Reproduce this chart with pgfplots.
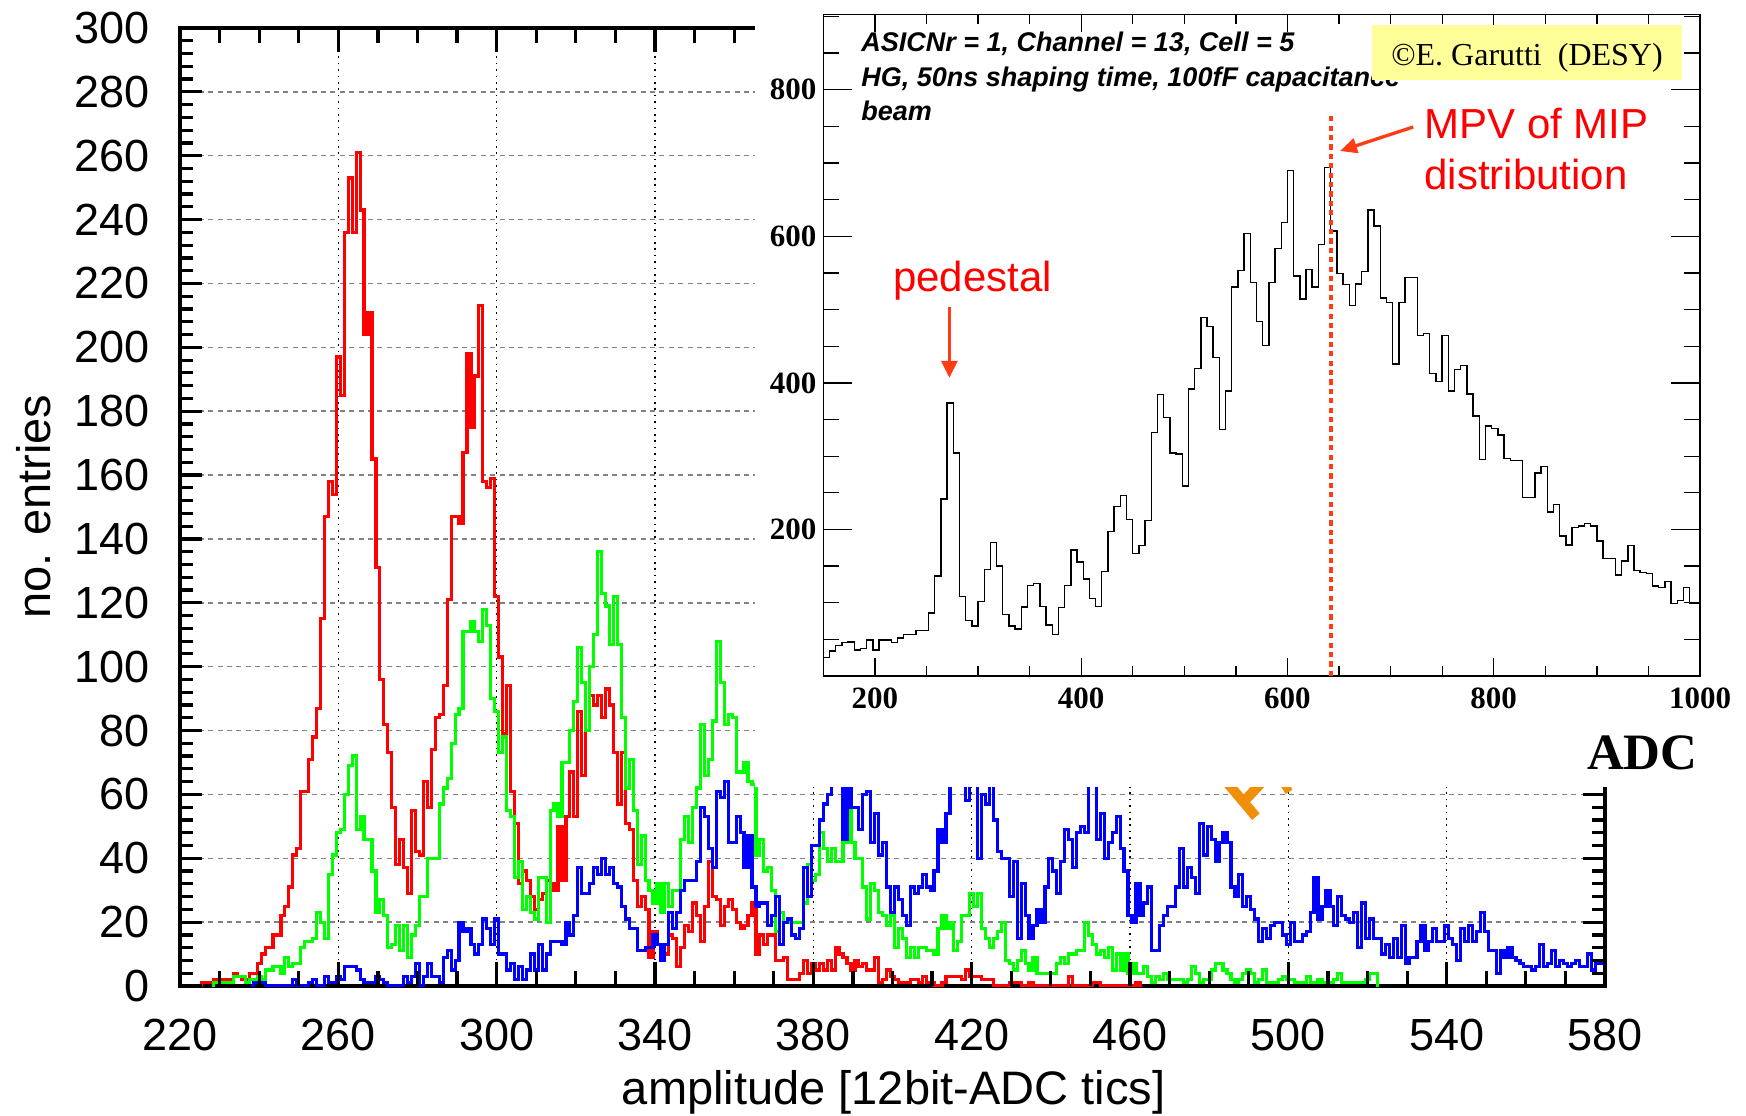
\documentclass[border=0pt]{standalone}
\usepackage{fontspec}
\setmainfont{Liberation Sans}
\newfontfamily\serifft{Liberation Serif}
\usepackage{pgfplots}
\pgfplotsset{compat=1.18}
\usetikzlibrary{arrows.meta}
\definecolor{arrowred}{RGB}{255,60,20}
\definecolor{boxyellow}{RGB}{255,255,153}
\definecolor{glyphorange}{RGB}{240,144,10}
\definecolor{hgreen}{RGB}{0,255,0}
\definecolor{hblue}{RGB}{0,0,255}
\definecolor{hred}{RGB}{255,0,0}
\definecolor{gridgray}{RGB}{130,130,130}
\tikzset{mtick/.style={black, line width=1.6pt}, itick/.style={black, line width=0.65pt}}
\begin{document}
\begin{tikzpicture}
\useasboundingbox (0,0) rectangle (873pt,557.5pt);
\begin{axis}[
  at={(90pt,64.5pt)}, anchor=south west,
  width=712.5pt, height=479pt, scale only axis,
  xmin=220, xmax=580, ymin=0, ymax=300,
  xtick={220,260,...,580},
  ytick={0,20,...,300},
  major tick length=0pt, minor tick length=0pt,
  axis line style={line width=2pt},
  xmajorgrids,
  major grid style={black, line width=0.6pt, dash pattern=on 0.8pt off 2.4pt},
  extra y ticks={20,40,...,280}, extra y tick labels={},
  extra y tick style={grid=major, major grid style={gridgray, line width=0.7pt, dash pattern=on 2.5pt off 2.2pt}},
  tick label style={font=\fontsize{22.5}{22.5}\selectfont},
  xticklabel style={inner sep=0pt, yshift=-16.5pt},
  yticklabel style={inner sep=0pt, xshift=-15pt},
  /pgf/number format/assume math mode=true,
]
\addplot[hred, line width=1.6pt, const plot mark mid] coordinates {
(225,0)(226,1)(227,1)(228,1)(229,2)(230,2)(231,2)(232,2)(233,2)(234,4)(235,3)(236,2)(237,2)(238,4)(239,4)(240,7)(241,10)(242,12)(243,12)(244,16)(245,16)(246,22)(247,25)(248,31)(249,41)(250,43)(251,61)(252,61)(253,71)(254,78)(255,87)(256,115)(257,147)(258,158)(259,154)(260,197)(261,185)(262,236)(263,253)(264,236)(265,261)(266,243)(267,204)(268,211)(269,165)(270,131)(271,96)(272,82)(273,73)(274,56)(275,38)(276,46)(277,37)(278,29)(279,55)(280,42)(281,41)(282,64)(283,56)(284,74)(285,84)(286,85)(287,94)(288,121)(289,147)(290,147)(291,145)(292,167)(293,198)(294,175)(295,191)(296,213)(297,158)(298,156)(299,159)(300,122)(301,103)(302,79)(303,94)(304,61)(305,51)(306,32)(307,36)(308,33)(309,28)(310,24)(311,27)(312,29)(313,33)(314,32)(315,30)(316,50)(317,33)(318,53)(319,67)(320,53)(321,86)(322,66)(323,80)(324,91)(325,88)(326,91)(327,84)(328,93)(329,88)(330,73)(331,57)(332,73)(333,51)(334,49)(335,33)(336,25)(337,28)(338,24)(339,9)(340,17)(341,13)(342,12)(343,10)(344,16)(345,15)(346,6)(347,12)(348,19)(349,17)(350,26)(351,22)(352,14)(353,25)(354,39)(355,28)(356,27)(357,19)(358,25)(359,27)(360,24)(361,20)(362,18)(363,19)(364,22)(365,26)(366,10)(367,16)(368,13)(369,16)(370,16)(371,8)(372,8)(373,9)(374,2)(375,2)(376,2)(377,4)(378,8)(379,4)(380,7)(381,5)(382,7)(383,5)(384,8)(385,5)(386,12)(387,10)(388,9)(389,7)(390,5)(391,8)(392,6)(393,7)(394,5)(395,5)(396,9)(397,1)(398,2)(399,5)(400,3)(401,2)(402,1)(403,1)(404,1)(405,2)(406,2)(407,1)(408,3)(409,1)(410,1)(411,0)(412,0)(413,1)(414,3)(415,3)(416,3)(417,3)(418,2)(419,5)(420,3)(421,3)(422,3)(423,2)(424,2)(425,2)(426,0)(427,0)(428,0)(429,0)(430,1)(431,1)(432,1)(433,0)(434,0)(435,1)(436,0)(444,0)(445,3)(446,0)(450,0)(451,1)(452,1)(453,0)(461,0)(462,1)(463,0)
};
\addplot[hgreen, line width=1.6pt, const plot mark mid] coordinates {
(228,0)(229,1)(230,1)(231,1)(232,1)(233,1)(234,3)(235,3)(236,3)(237,1)(238,2)(239,2)(240,3)(241,2)(242,5)(243,5)(244,6)(245,6)(246,4)(247,9)(248,6)(249,7)(250,7)(251,12)(252,14)(253,14)(254,15)(255,23)(256,20)(257,15)(258,35)(259,41)(260,48)(261,49)(262,60)(263,69)(264,72)(265,49)(266,53)(267,46)(268,46)(269,36)(270,23)(271,27)(272,22)(273,12)(274,13)(275,19)(276,11)(277,19)(278,9)(279,16)(280,19)(281,28)(282,28)(283,40)(284,40)(285,40)(286,57)(287,62)(288,65)(289,76)(290,85)(291,87)(292,111)(293,111)(294,114)(295,111)(296,108)(297,118)(298,113)(299,90)(300,86)(301,73)(302,78)(303,55)(304,53)(305,34)(306,39)(307,24)(308,28)(309,23)(310,21)(311,34)(312,34)(313,20)(314,55)(315,57)(316,53)(317,70)(318,70)(319,80)(320,89)(321,106)(322,95)(323,80)(324,100)(325,110)(326,136)(327,123)(328,119)(329,107)(330,122)(331,107)(332,84)(333,62)(334,71)(335,55)(336,38)(337,47)(338,33)(339,30)(340,26)(341,32)(342,23)(343,32)(344,25)(345,30)(346,30)(347,46)(348,53)(349,45)(350,56)(351,62)(352,82)(353,66)(354,71)(355,83)(356,108)(357,95)(358,82)(359,85)(360,84)(361,67)(362,67)(363,70)(364,64)(365,63)(366,41)(367,46)(368,36)(369,37)(370,30)(371,17)(372,23)(373,20)(374,20)(375,20)(376,20)(377,20)(378,26)(379,38)(380,33)(381,35)(382,48)(383,43)(384,39)(385,43)(386,39)(387,39)(388,45)(389,56)(390,45)(391,40)(392,40)(393,31)(394,21)(395,32)(396,30)(397,23)(398,22)(399,19)(400,22)(401,12)(402,18)(403,15)(404,9)(405,12)(406,9)(407,12)(408,12)(409,11)(410,11)(411,10)(412,18)(413,22)(414,18)(415,20)(416,11)(417,14)(418,22)(419,22)(420,29)(421,25)(422,29)(423,18)(424,15)(425,12)(426,15)(427,17)(428,20)(429,8)(430,7)(431,5)(432,8)(433,11)(434,7)(435,5)(436,9)(437,4)(438,4)(439,4)(440,4)(441,4)(442,7)(443,9)(444,7)(445,10)(446,10)(447,11)(448,11)(449,20)(450,16)(451,13)(452,10)(453,11)(454,9)(455,12)(456,5)(457,10)(458,5)(459,10)(460,4)(461,7)(462,4)(463,4)(464,6)(465,3)(466,1)(467,3)(468,2)(469,4)(470,2)(471,2)(472,2)(473,2)(474,1)(475,2)(476,6)(477,4)(478,1)(479,2)(480,2)(481,5)(482,7)(483,7)(484,5)(485,4)(486,2)(487,1)(488,2)(489,4)(490,5)(491,4)(492,1)(493,2)(494,5)(495,1)(496,1)(497,1)(498,2)(499,3)(500,2)(501,2)(502,1)(503,1)(504,1)(505,3)(506,1)(507,1)(508,2)(509,1)(510,1)(511,1)(512,2)(513,4)(514,1)(515,1)(516,1)(517,1)(518,1)(519,1)(520,2)(521,4)(522,4)(523,0)
};
\addplot[hblue, line width=1.6pt, const plot mark mid] coordinates {
(238,0)(239,1)(240,1)(241,1)(242,0)(248,0)(249,2)(250,0)(252,0)(253,1)(254,2)(255,0)(256,0)(257,3)(258,1)(259,1)(260,3)(261,2)(262,6)(263,6)(264,6)(265,5)(266,2)(267,1)(268,1)(269,1)(270,3)(271,2)(272,1)(273,0)(276,0)(277,3)(278,1)(279,3)(280,7)(281,0)(282,3)(283,7)(284,3)(285,3)(286,1)(287,9)(288,11)(289,5)(290,8)(291,20)(292,17)(293,18)(294,13)(295,10)(296,13)(297,21)(298,18)(299,13)(300,21)(301,10)(302,10)(303,5)(304,7)(305,2)(306,6)(307,2)(308,5)(309,10)(310,5)(311,13)(312,5)(313,10)(314,14)(315,14)(316,14)(317,13)(318,20)(319,16)(320,22)(321,37)(322,29)(323,29)(324,32)(325,37)(326,35)(327,40)(328,35)(329,37)(330,32)(331,31)(332,25)(333,21)(334,18)(335,18)(336,11)(337,11)(338,12)(339,12)(340,16)(341,13)(342,8)(343,13)(344,23)(345,18)(346,23)(347,30)(348,33)(349,33)(350,33)(351,39)(352,56)(353,53)(354,43)(355,37)(356,61)(357,59)(358,64)(359,45)(360,45)(361,53)(362,48)(363,37)(364,47)(365,31)(366,25)(367,26)(368,26)(369,19)(370,22)(371,28)(372,13)(373,20)(374,21)(375,16)(376,15)(377,18)(378,37)(379,28)(380,44)(381,44)(382,52)(383,57)(384,60)(385,70)(386,75)(387,68)(388,46)(389,70)(390,56)(391,56)(392,49)(393,60)(394,61)(395,45)(396,54)(397,41)(398,45)(399,31)(400,23)(401,31)(402,27)(403,22)(404,19)(405,31)(406,29)(407,31)(408,35)(409,31)(410,30)(411,36)(412,49)(413,45)(414,54)(415,70)(416,75)(417,70)(418,68)(419,58)(420,75)(421,70)(422,40)(423,60)(424,57)(425,68)(426,52)(427,42)(428,40)(429,40)(430,28)(431,39)(432,15)(433,32)(434,22)(435,15)(436,19)(437,24)(438,20)(439,31)(440,40)(441,36)(442,29)(443,39)(444,49)(445,46)(446,37)(447,48)(448,50)(449,48)(450,70)(451,65)(452,46)(453,54)(454,40)(455,45)(456,48)(457,53)(458,43)(459,36)(460,22)(461,20)(462,32)(463,22)(464,26)(465,31)(466,11)(467,11)(468,19)(469,22)(470,25)(471,25)(472,31)(473,43)(474,31)(475,37)(476,34)(477,29)(478,51)(479,41)(480,50)(481,46)(482,39)(483,45)(484,48)(485,45)(486,31)(487,28)(488,35)(489,25)(490,28)(491,24)(492,21)(493,14)(494,18)(495,15)(496,19)(497,20)(498,20)(499,16)(500,13)(501,20)(502,14)(503,14)(504,16)(505,17)(506,23)(507,34)(508,21)(509,25)(510,30)(511,25)(512,19)(513,28)(514,22)(515,21)(516,20)(517,23)(518,12)(519,26)(520,15)(521,21)(522,15)(523,15)(524,10)(525,13)(526,9)(527,15)(528,9)(529,19)(530,7)(531,9)(532,9)(533,14)(534,19)(535,11)(536,14)(537,18)(538,14)(539,14)(540,19)(541,15)(542,13)(543,8)(544,18)(545,14)(546,19)(547,14)(548,17)(549,23)(550,17)(551,11)(552,11)(553,4)(554,11)(555,9)(556,12)(557,9)(558,8)(559,7)(560,6)(561,6)(562,5)(563,6)(564,13)(565,6)(566,7)(567,11)(568,6)(569,8)(570,7)(571,6)(572,7)(573,8)(574,6)(575,6)(576,10)(577,5)(578,8)(579,7)(580,7)
};
\draw[glyphorange, line width=5pt] (axis cs:483,66) -- (axis cs:491.8,53);
\draw[glyphorange, line width=5pt] (axis cs:488.4,57.3) -- (axis cs:495,66);
\draw[glyphorange, line width=4pt] (axis cs:497.5,66) -- (axis cs:500.2,60.8);
\end{axis}
% main axis tick marks, drawn on the axis frame (inside)
\foreach \v in {0,4,...,300} {
  \draw[mtick] (90pt,{64.5pt+1.596667pt*\v}) -- ++(6.5pt,0pt);
  \draw[mtick] (802.5pt,{64.5pt+1.596667pt*\v}) -- ++(-6.5pt,0pt);
}
\foreach \v in {0,20,...,300} {
  \draw[mtick] (90pt,{64.5pt+1.596667pt*\v}) -- ++(11pt,0pt);
  \draw[mtick] (802.5pt,{64.5pt+1.596667pt*\v}) -- ++(-11pt,0pt);
}
\foreach \u in {0,10,...,360} {
  \draw[mtick] ({90pt+1.979167pt*\u},64.5pt) -- ++(0pt,7.5pt);
  \draw[mtick] ({90pt+1.979167pt*\u},543.5pt) -- ++(0pt,-7.5pt);
}
\foreach \u in {0,40,...,360} {
  \draw[mtick] ({90pt+1.979167pt*\u},64.5pt) -- ++(0pt,12pt);
  \draw[mtick] ({90pt+1.979167pt*\u},543.5pt) -- ++(0pt,-12pt);
}
\fill[white] (377.5pt,164pt) rectangle (873pt,557.5pt);
\begin{axis}[
  at={(411.65pt,219.5pt)}, anchor=south west,
  width=438.35pt, height=330.85pt, scale only axis,
  xmin=150, xmax=1000, ymin=0, ymax=903,
  xtick={200,400,...,1000},
  ytick={200,400,600,800},
  major tick length=0pt, minor tick length=0pt,
  axis line style={line width=0.75pt},
  tick label style={font=\serifft\bfseries\fontsize{15.5}{15.5}\selectfont},
  xticklabel style={inner sep=0pt, yshift=-5.7pt},
  yticklabel style={inner sep=0pt, xshift=-3.3pt},
  /pgf/number format/assume math mode=true,
  /pgf/number format/1000 sep={},
]
\addplot[black, line width=0.7pt, const plot] coordinates {
(150,25)(156,34)(162,41.5)(168,45.7)(174,46.3)(180,35.6)(186,37.4)(192,49.3)(198,35.6)(204,49)(210,49)(216,45.7)(222,51.6)(228,56.4)(234,56.4)(240,62.3)(246,62.3)(252,86)(258,136.5)(264,241.5)(270,372.7)(276,304.5)(282,108.6)(288,76)(294,68.2)(300,102)(306,145.4)(312,182.2)(318,150.1)(324,84.3)(330,68.2)(336,64.1)(342,94.4)(348,123.4)(354,126.4)(360,95)(366,69.4)(372,56.4)(378,93.2)(384,123.4)(390,172.1)(396,155.5)(402,132.3)(408,105.6)(414,95)(420,142.4)(426,197)(432,231.5)(438,246.3)(444,213.6)(450,167.4)(456,178)(462,212.5)(468,332.3)(474,384)(480,353)(486,304.5)(492,302.7)(498,259.3)(504,391.7)(510,419.6)(516,489.6)(522,476.6)(528,434.4)(534,336)(540,388.7)(546,531)(552,553)(558,604)(564,537)(570,484)(576,451)(582,537)(588,583)(594,619)(600,689.6)(606,546)(612,514.5)(618,555)(624,531)(630,589)(636,694)(642,607)(648,549)(654,534)(660,505.6)(666,535)(672,552)(678,636)(684,614)(690,516)(696,510)(702,425.5)(708,510)(714,544)(720,544)(726,464.7)(732,467)(738,412.5)(744,401.8)(750,464.7)(756,388.7)(762,418.4)(768,424)(774,384.6)(780,355)(786,295.5)(792,341)(798,338)(804,329)(810,296.7)(816,293.8)(822,293.8)(828,243.3)(834,243.3)(840,277)(846,286)(852,223.7)(858,234.4)(864,191)(870,179)(876,203)(882,204.7)(888,207.7)(894,204.7)(900,184)(906,160)(912,160)(918,137.7)(924,157)(930,178)(936,143.6)(942,141)(948,139.5)(954,122.8)(960,120.5)(966,128.8)(972,99)(978,102.7)(984,120.5)(990,99.7)(1000,99.7)
};
\draw[arrowred, line width=2pt, dash pattern=on 2.6pt off 2.1pt] (axis cs:642,0) -- (axis cs:642,769);
\end{axis}
% inset tick marks
\foreach \v in {50,100,...,900} {
  \draw[itick] (411.65pt,{219.5pt+0.36639pt*\v}) -- ++(8pt,0pt);
  \draw[itick] (850pt,{219.5pt+0.36639pt*\v}) -- ++(-8pt,0pt);
}
\foreach \v in {200,400,600,800} {
  \draw[itick] (411.65pt,{219.5pt+0.36639pt*\v}) -- ++(14.5pt,0pt);
  \draw[itick] (850pt,{219.5pt+0.36639pt*\v}) -- ++(-14.5pt,0pt);
}
\foreach \u in {0,50,...,850} {
  \draw[itick] ({411.65pt+0.515706pt*\u},219.5pt) -- ++(0pt,5pt);
  \draw[itick] ({411.65pt+0.515706pt*\u},550.35pt) -- ++(0pt,-5pt);
}
\foreach \u in {50,250,450,650,850} {
  \draw[itick] ({411.65pt+0.515706pt*\u},219.5pt) -- ++(0pt,9pt);
  \draw[itick] ({411.65pt+0.515706pt*\u},550.35pt) -- ++(0pt,-9pt);
}
% inset annotations
\node[anchor=base west, inner sep=0pt, font=\bfseries\itshape\fontsize{13.5}{13.5}\selectfont] at (430.5pt,531.5pt) {ASICNr = 1, Channel = 13, Cell = 5};
\node[anchor=base west, inner sep=0pt, font=\bfseries\itshape\fontsize{13.5}{13.5}\selectfont] at (430.5pt,514.25pt) {HG, 50ns shaping time, 100fF capacitance};
\node[anchor=base west, inner sep=0pt, font=\bfseries\itshape\fontsize{13.5}{13.5}\selectfont] at (430.5pt,497pt) {beam};
\fill[boxyellow] (686pt,517.5pt) rectangle (841pt,545pt);
\node[anchor=base, inner sep=0pt, font=\serifft\fontsize{16}{16}\selectfont] at (763.5pt,524.5pt) {©E. Garutti\ \ (DESY)};
\node[anchor=base, inner sep=0pt, text=hred, font=\fontsize{21}{21}\selectfont] at (486.3pt,411.6pt) {pedestal};
\draw[arrowred, line width=1.65pt, -{Triangle[length=8.5pt,width=8pt]}] (474.7pt,404pt) -- (474.7pt,368.6pt);
\node[anchor=base west, inner sep=0pt, text=hred, font=\fontsize{21}{21}\selectfont] at (712pt,488pt) {MPV of MIP};
\node[anchor=base west, inner sep=0pt, text=hred, font=\fontsize{21}{21}\selectfont] at (712pt,462.5pt) {distribution};
\draw[arrowred, line width=1.65pt, -{Triangle[length=8.5pt,width=7.5pt]}] (706.6pt,494pt) -- (670pt,482pt);
\node[anchor=base east, inner sep=0pt, font=\serifft\bfseries\fontsize{25.5}{25.5}\selectfont] at (849pt,172.5pt) {ADC};
% main axis labels
\node[rotate=90, inner sep=0pt, font=\fontsize{23.5}{23.5}\selectfont] at (16.7pt,304.2pt) {no. entries};
\node[anchor=base, inner sep=0pt, font=\fontsize{23.5}{23.5}\selectfont] at (446.8pt,5.5pt) {amplitude [12bit-ADC tics]};
\end{tikzpicture}
\end{document}
